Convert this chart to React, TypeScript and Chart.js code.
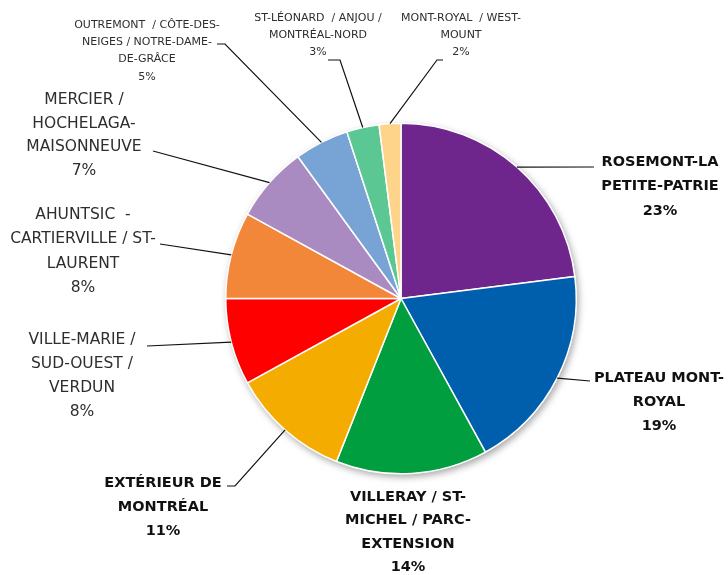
import React, { useEffect, useRef } from "react";
import { Chart, registerables } from "chart.js";

Chart.register(...registerables);

const categories = [
  "ROSEMONT-LA PETITE-PATRIE",
  "PLATEAU MONT-ROYAL",
  "VILLERAY / ST-MICHEL / PARC-EXTENSION",
  "EXTÉRIEUR DE MONTRÉAL",
  "VILLE-MARIE / SUD-OUEST / VERDUN",
  "AHUNTSIC - CARTIERVILLE / ST-LAURENT",
  "MERCIER / HOCHELAGA-MAISONNEUVE",
  "OUTREMONT / CÔTE-DES-NEIGES / NOTRE-DAME-DE-GRÂCE",
  "ST-LÉONARD / ANJOU / MONTRÉAL-NORD",
  "MONT-ROYAL / WESTMOUNT",
];

const values = [23, 19, 14, 11, 8, 8, 7, 5, 3, 2];

const percentLabels = ["23%", "19%", "14%", "11%", "8%", "8%", "7%", "5%", "3%", "2%"];

const labelLines = [
  ["ROSEMONT-LA", "PETITE-PATRIE"],
  ["PLATEAU MONT-", "ROYAL"],
  ["VILLERAY / ST-", "MICHEL / PARC-", "EXTENSION"],
  ["EXTÉRIEUR DE", "MONTRÉAL"],
  ["VILLE-MARIE /", "SUD-OUEST /", "VERDUN"],
  ["AHUNTSIC  -", "CARTIERVILLE / ST-", "LAURENT"],
  ["MERCIER /", "HOCHELAGA-", "MAISONNEUVE"],
  ["OUTREMONT  / CÔTE-DES-", "NEIGES / NOTRE-DAME-", "DE-GRÂCE"],
  ["ST-LÉONARD  / ANJOU /", "MONTRÉAL-NORD"],
  ["MONT-ROYAL  / WEST-", "MOUNT"],
];

const colors = [
  "#6E268D",
  "#005FAD",
  "#009E3E",
  "#F4AC00",
  "#FF0000",
  "#F2873A",
  "#A98AC1",
  "#77A3D5",
  "#5BC893",
  "#FDD48A",
];

// label layout: style, center x, first line middle y, line height, leader elbow points
type Layout = { kind: "big" | "bold" | "small"; cx: number; y: number; lh: number; leader: number[][] };
const layouts: Layout[] = [
  { kind: "bold", cx: 660, y: 162, lh: 24.5, leader: [[594, 167]] },
  { kind: "bold", cx: 659, y: 378, lh: 24, leader: [[590, 381]] },
  { kind: "bold", cx: 408, y: 497, lh: 23.5, leader: [] },
  { kind: "bold", cx: 163, y: 483, lh: 24, leader: [[235, 486], [227, 486]] },
  { kind: "big", cx: 82, y: 340, lh: 24, leader: [[147, 346]] },
  { kind: "big", cx: 83, y: 215, lh: 24.3, leader: [[160, 244]] },
  { kind: "big", cx: 84, y: 100, lh: 23.5, leader: [[153, 151]] },
  { kind: "small", cx: 147, y: 25, lh: 17.3, leader: [[225, 44], [217, 44]] },
  { kind: "small", cx: 318, y: 18, lh: 17, leader: [[340, 60], [328, 60]] },
  { kind: "small", cx: 461, y: 18, lh: 17, leader: [[437, 60], [443, 60]] },
];

const shadowPlugin = {
  id: "pieShadow",
  beforeDatasetsDraw(chart: any) {
    const meta = chart.getDatasetMeta(0);
    const arc = meta.data[0];
    if (!arc) return;
    const { x, y, outerRadius } = arc.getProps(["x", "y", "outerRadius"], true);
    const ctx = chart.ctx;
    ctx.save();
    ctx.shadowColor = "rgba(0,0,0,0.35)";
    ctx.shadowBlur = 7;
    ctx.shadowOffsetX = 2;
    ctx.shadowOffsetY = 3;
    ctx.fillStyle = "#ffffff";
    ctx.beginPath();
    ctx.arc(x, y, outerRadius + 0.5, 0, Math.PI * 2);
    ctx.fill();
    ctx.restore();
  },
};

const labelPlugin = {
  id: "pieLabels",
  afterDatasetsDraw(chart: any) {
    const ctx = chart.ctx;
    const meta = chart.getDatasetMeta(0);
    meta.data.forEach((arc: any, i: number) => {
      const p = arc.getProps(["x", "y", "startAngle", "endAngle", "outerRadius"], true);
      const mid = (p.startAngle + p.endAngle) / 2;
      const ax = p.x + Math.cos(mid) * p.outerRadius;
      const ay = p.y + Math.sin(mid) * p.outerRadius;
      const L = layouts[i];
      if (L.leader.length) {
        ctx.save();
        ctx.strokeStyle = "#111";
        ctx.lineWidth = 1.2;
        ctx.beginPath();
        ctx.moveTo(ax, ay);
        L.leader.forEach((pt) => ctx.lineTo(pt[0], pt[1]));
        ctx.stroke();
        ctx.restore();
      }
      ctx.save();
      ctx.textAlign = "center";
      ctx.textBaseline = "middle";
      if (L.kind === "bold") {
        ctx.font = "bold 14.5px 'DejaVu Sans'";
        ctx.fillStyle = "#111";
      } else if (L.kind === "big") {
        ctx.font = "15.5px 'DejaVu Sans'";
        ctx.fillStyle = "#2e2e2e";
      } else {
        ctx.font = "11px 'DejaVu Sans'";
        ctx.fillStyle = "#2e2e2e";
      }
      const lines = [...labelLines[i], percentLabels[i]];
      lines.forEach((t, k) => ctx.fillText(t, L.cx, L.y + k * L.lh));
      ctx.restore();
    });
  },
};

export default function App() {
  const ref = useRef<HTMLCanvasElement>(null);
  useEffect(() => {
    if (!ref.current) return;
    const chart = new Chart(ref.current, {
      type: "pie",
      data: {
        labels: categories,
        datasets: [
          {
            data: values,
            backgroundColor: colors,
            borderColor: "#ffffff",
            borderWidth: 1.5,
          },
        ],
      },
      options: {
        animation: false,
        responsive: false,
        layout: { padding: { left: 225, right: 151, top: 122.5, bottom: 100.5 } },
        plugins: {
          legend: { display: false },
          tooltip: { enabled: false },
        },
      },
      plugins: [shadowPlugin, labelPlugin],
    });
    return () => chart.destroy();
  }, []);
  return (
    <div style={{ position: "fixed", left: 0, top: 0, width: 728, height: 575, background: "#fff" }}>
      <canvas ref={ref} width={728} height={575} />
    </div>
  );
}
